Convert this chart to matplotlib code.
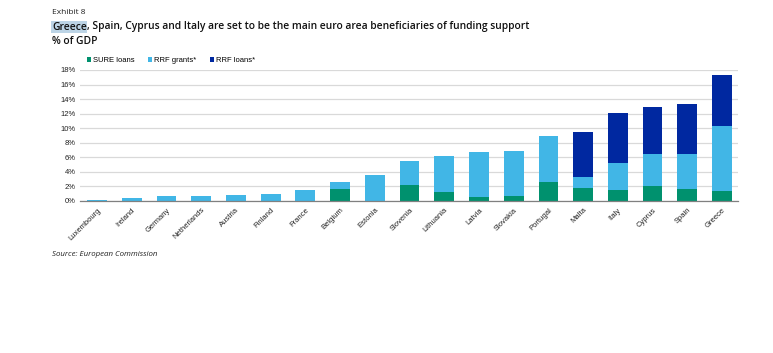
import matplotlib
matplotlib.use("Agg")
import matplotlib.pyplot as plt
import numpy as np

countries = ["Luxembourg", "Ireland", "Germany", "Netherlands", "Austria", "Finland",
             "France", "Belgium", "Estonia", "Slovenia", "Lithuania", "Latvia",
             "Slovakia", "Portugal", "Malta", "Italy", "Cyprus", "Spain", "Greece"]
sure_loans = [0.0, 0.0, 0.0, 0.0, 0.0, 0.0, 0.0, 1.6, 0.0, 2.2, 1.2, 0.6, 0.7, 2.66, 1.74, 1.47, 2.11, 1.65, 1.42]
rrf_grants = [0.18, 0.37, 0.64, 0.66, 0.78, 0.96, 1.51, 1.06, 3.62, 3.3, 5.0, 6.2, 6.23, 6.28, 1.61, 3.71, 4.36, 4.77, 8.95]
rrf_loans = [0.0, 0.0, 0.0, 0.0, 0.0, 0.0, 0.0, 0.0, 0.0, 0.0, 0.0, 0.0, 0.0, 0.0, 6.19, 6.88, 6.47, 6.88, 6.93]
yticks = [0, 2, 4, 6, 8, 10, 12, 14, 16, 18]

C_SURE = "#00916E"
C_GRANT = "#41B6E6"
C_LOAN = "#0028A0"

fig = plt.figure(figsize=(7.73, 3.53), dpi=100)
ax = fig.add_axes([80/773, 1-201/353, (738-80)/773, (201-70)/353])

x = np.arange(len(countries))
s = np.array(sure_loans); g = np.array(rrf_grants); l = np.array(rrf_loans)
w = 0.57
ax.bar(x, s, w, color=C_SURE, label="SURE loans", zorder=3)
ax.bar(x, g, w, bottom=s, color=C_GRANT, label="RRF grants*", zorder=3)
ax.bar(x, l, w, bottom=s + g, color=C_LOAN, label="RRF loans*", zorder=3)

ax.set_ylim(0, 18)
ax.set_xlim(-0.49, len(countries) - 1 + 0.46)
ax.set_yticks(yticks)
ax.set_yticklabels([f"{v}%" for v in yticks], fontsize=5.5, family="Liberation Sans", color="#222222")
ax.set_xticks(x)
ax.set_xticklabels(countries, rotation=45, ha="right", rotation_mode="anchor",
                   fontsize=5.5, family="Liberation Sans", color="#222222")
ax.tick_params(axis="both", length=0, pad=3)
ax.tick_params(axis="x", pad=4)
ax.grid(axis="y", color="#d9d9d9", linewidth=0.9, zorder=0)
for sp in ["top", "right", "left"]:
    ax.spines[sp].set_visible(False)
ax.spines["bottom"].set_color("#808080")
ax.spines["bottom"].set_linewidth(0.9)
ax.spines["bottom"].set_zorder(4)

leg = fig.legend(loc="upper left", bbox_to_anchor=(87/773, 1-57/353), ncol=3, frameon=False,
                 prop={"family": "Liberation Sans", "size": 5.5}, handlelength=0.55, handleheight=0.55,
                 handletextpad=0.2, columnspacing=1.8, borderpad=0, borderaxespad=0)

fig.text(52/773, 1-12/353, "Exhibit 8", fontsize=6, family="Open Sans", color="#222222", va="center")
t1 = fig.text(52/773, 1-27/353, "Greece", fontsize=7.4, family="Open Sans", weight="semibold",
              color="#111111", va="center",
              bbox=dict(boxstyle="square,pad=0.05", facecolor="#BCD4E6", edgecolor="none"))
fig.canvas.draw()
bb = t1.get_window_extent()
fig.text(bb.x1/773 + 0.5/773, 1-27/353,
         ", Spain, Cyprus and Italy are set to be the main euro area beneficiaries of funding support",
         fontsize=7.4, family="Open Sans", weight="semibold", color="#111111", va="center")
fig.text(52/773, 1-41/353, "% of GDP", fontsize=7.4, family="Open Sans", weight="semibold",
         color="#111111", va="center")
fig.text(52/773, 1-254/353, "Source: European Commission", fontsize=5.7, family="Open Sans",
         style="italic", color="#222222", va="center")

fig.savefig("out.png", dpi=100, facecolor="white")
